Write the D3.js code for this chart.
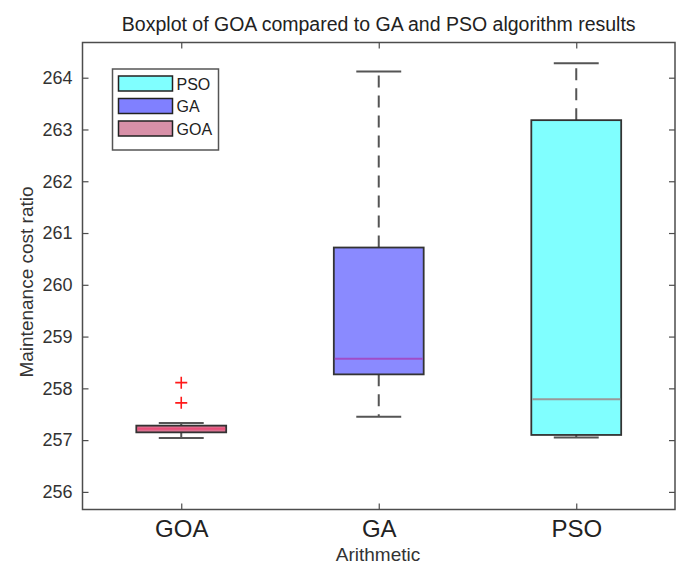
<!DOCTYPE html>
<html>
<head>
<meta charset="utf-8">
<script src="https://cdn.jsdelivr.net/npm/d3@7"></script>
<style>
  body { margin: 0; background: #fff; }
  svg { font-family: "Liberation Sans", Arial, sans-serif; }
</style>
</head>
<body>
<div id="chart"></div>
<script>
// box statistics
const categories = ["GOA", "GA", "PSO"];
const whiskerLow  = [257.04, 257.45, 257.05];
const q1          = [257.15, 258.27, 257.10];
const median      = [257.22, 258.57, 257.79];
const q3          = [257.28, 260.72, 263.18];
const whiskerHigh = [257.33, 264.12, 264.28];
const outliers    = [[257.72, 258.11], [], []];
const yTicks = [256, 257, 258, 259, 260, 261, 262, 263, 264];

const boxFill = ["#dc7090", "#8a8aff", "#80ffff"];
const medianColor = ["#e8507a", "#a04cc8", "#999999"];
const legendNames = ["PSO", "GA", "GOA"];
const legendFill = ["#80ffff", "#8080ff", "#d890a8"];

const width = 680, height = 566;
const margin = {top: 42.5, right: 5, bottom: 56.5, left: 82.5};

const svg = d3.select("#chart").append("svg")
  .attr("width", width)
  .attr("height", height);

const x = d3.scaleLinear()
  .domain([0.5, 3.5])
  .range([margin.left, width - margin.right]);

const y = d3.scaleLinear()
  .domain([255.66, 264.68])
  .range([height - margin.bottom, margin.top]);

const boxW = 0.455; // in category units
const capW = boxW / 2;

// frame
svg.append("rect")
  .attr("x", x(0.5)).attr("y", y(264.68))
  .attr("width", x(3.5) - x(0.5))
  .attr("height", y(255.66) - y(264.68))
  .attr("fill", "none")
  .attr("stroke", "#4d4d4d")
  .attr("stroke-width", 1.5);

// axes with inward ticks
const yLeft = svg.append("g")
  .attr("transform", "translate(" + x(0.5) + ",0)")
  .call(d3.axisLeft(y).tickValues(yTicks).tickSize(-6).tickPadding(10).tickFormat(d3.format("d")));
const yRight = svg.append("g")
  .attr("transform", "translate(" + x(3.5) + ",0)")
  .call(d3.axisRight(y).tickValues(yTicks).tickSize(-6).tickFormat(""));
const xBottom = svg.append("g")
  .attr("transform", "translate(0," + y(255.66) + ")")
  .call(d3.axisBottom(x).tickValues([1, 2, 3]).tickSize(-6).tickPadding(10)
    .tickFormat((d, i) => categories[i]));
const xTop = svg.append("g")
  .attr("transform", "translate(0," + y(264.68) + ")")
  .call(d3.axisTop(x).tickValues([1, 2, 3]).tickSize(-6).tickFormat(""));

[yLeft, yRight, xBottom, xTop].forEach(g => {
  g.select(".domain").remove();
  g.selectAll(".tick line").attr("stroke", "#4d4d4d").attr("stroke-width", 1.2);
});
yLeft.selectAll(".tick text").attr("font-size", 18).attr("fill", "#333")
  .attr("font-family", "Liberation Sans, Arial, sans-serif");
xBottom.selectAll(".tick text").attr("font-size", 24).attr("fill", "#222")
  .attr("font-family", "Liberation Sans, Arial, sans-serif");

// boxes
const stats = categories.map((c, i) => ({
  c, i, pos: i + 1,
  lo: whiskerLow[i], q1: q1[i], med: median[i], q3: q3[i], hi: whiskerHigh[i],
  out: outliers[i]
}));

const g = svg.append("g");
const box = g.selectAll("g.box").data(stats).join("g").attr("class", "box");

// whiskers (dashed)
box.append("line")
  .attr("x1", d => x(d.pos)).attr("x2", d => x(d.pos))
  .attr("y1", d => y(d.q3)).attr("y2", d => y(d.hi))
  .attr("stroke", "#555").attr("stroke-width", 2).attr("stroke-dasharray", "12,8");
box.append("line")
  .attr("x1", d => x(d.pos)).attr("x2", d => x(d.pos))
  .attr("y1", d => y(d.q1)).attr("y2", d => y(d.lo))
  .attr("stroke", "#555").attr("stroke-width", 2).attr("stroke-dasharray", "12,8");

// caps
["hi", "lo"].forEach(k => {
  box.append("line")
    .attr("x1", d => x(d.pos - capW / 2)).attr("x2", d => x(d.pos + capW / 2))
    .attr("y1", d => y(d[k])).attr("y2", d => y(d[k]))
    .attr("stroke", "#555").attr("stroke-width", 2);
});

// box body
box.append("rect")
  .attr("x", d => x(d.pos - boxW / 2))
  .attr("y", d => y(d.q3))
  .attr("width", d => x(d.pos + boxW / 2) - x(d.pos - boxW / 2))
  .attr("height", d => y(d.q1) - y(d.q3))
  .attr("fill", d => boxFill[d.i])
  .attr("stroke", "#333")
  .attr("stroke-width", 1.8);

// median
box.append("line")
  .attr("x1", d => x(d.pos - boxW / 2) + 1).attr("x2", d => x(d.pos + boxW / 2) - 1)
  .attr("y1", d => y(d.med)).attr("y2", d => y(d.med))
  .attr("stroke", d => medianColor[d.i]).attr("stroke-width", 2);

// outliers
box.selectAll("path.out")
  .data(d => d.out.map(v => ({pos: d.pos, v})))
  .join("path")
  .attr("class", "out")
  .attr("d", "M-6,0H6M0,-6V6")
  .attr("transform", d => "translate(" + x(d.pos) + "," + y(d.v) + ")")
  .attr("stroke", "#ff1a1a").attr("stroke-width", 1.6).attr("fill", "none");

// legend
const lg = svg.append("g").attr("transform", "translate(112.5,69)");
lg.append("rect")
  .attr("width", 106).attr("height", 81)
  .attr("fill", "#fff").attr("stroke", "#555").attr("stroke-width", 1.5);
legendNames.forEach((n, i) => {
  lg.append("rect")
    .attr("x", 6).attr("y", 7 + i * 22.5)
    .attr("width", 54).attr("height", 15)
    .attr("fill", legendFill[i]).attr("stroke", "#222").attr("stroke-width", 1.5);
  lg.append("text")
    .attr("x", 64).attr("y", 20.5 + i * 22.5)
    .attr("font-size", 16).attr("fill", "#222")
    .text(n);
});

// title and labels
svg.append("text")
  .attr("x", (x(0.5) + x(3.5)) / 2).attr("y", 31)
  .attr("text-anchor", "middle")
  .attr("font-size", 19.5).attr("fill", "#222")
  .text("Boxplot of GOA compared to GA and PSO algorithm results");

svg.append("text")
  .attr("transform", "translate(33,282) rotate(-90)")
  .attr("text-anchor", "middle")
  .attr("font-size", 19).attr("fill", "#333")
  .text("Maintenance cost ratio");

svg.append("text")
  .attr("x", 378).attr("y", 561)
  .attr("text-anchor", "middle")
  .attr("font-size", 19).attr("fill", "#333")
  .text("Arithmetic");
</script>
</body>
</html>
